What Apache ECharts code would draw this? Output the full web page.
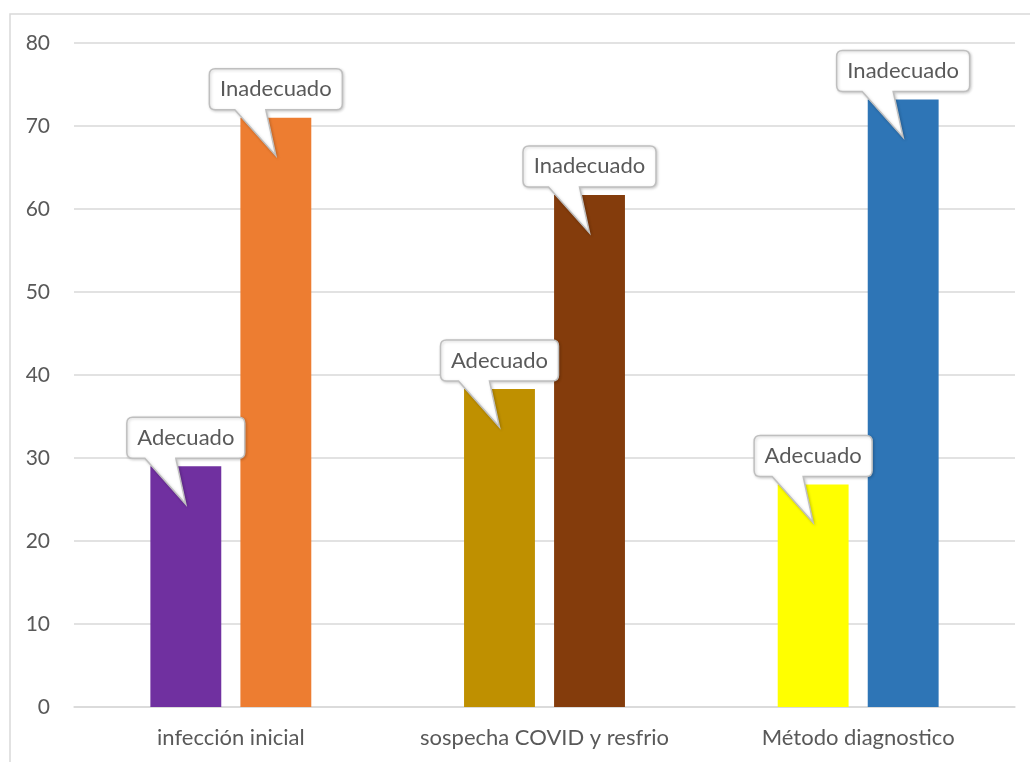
<!DOCTYPE html>
<html lang="es">
<head>
    <meta charset="UTF-8">
    <title>Adecuado / Inadecuado</title>
    <script src="https://cdn.jsdelivr.net/npm/echarts@6/dist/echarts.min.js"></script>
    <style>
        html, body { margin: 0; padding: 0; background: #fff; }
    </style>
</head>
<body>
    <div id="main" style="width: 1030px;height:762px;"></div>
    <script type="text/javascript">
        // datos
        var categorias = ['infección inicial', 'sospecha COVID y resfrio', 'Método diagnostico'];
        var adecuado = [29, 38.3, 26.8];
        var inadecuado = [71, 61.7, 73.2];
        var coloresAdecuado = ['#7030A0', '#BF9000', '#FFFF00'];
        var coloresInadecuado = ['#ED7D31', '#843C0C', '#2E75B6'];
        var nombres = ['Adecuado', 'Inadecuado'];

        var FONT = 'Lato, "Open Sans", sans-serif';
        var gapCat = 0.487, gapBar = 0.27;

        var ctx = document.createElement('canvas').getContext('2d');
        function anchoTexto(t) {
            ctx.font = '22px ' + FONT;
            return ctx.measureText(t).width;
        }

        // puntos para los globos: [categoria, valor, serie]
        var globos = [];
        categorias.forEach(function (c, i) {
            globos.push([i, adecuado[i], 0]);
            globos.push([i, inadecuado[i], 1]);
        });

        function globo(params, api) {
            var cat = api.value(0), val = api.value(1), s = api.value(2);
            var p = api.coord([cat, val]);
            var band = api.size([1, 0])[0];
            var w = band * (1 - gapCat) / (2 + gapBar);
            var cx = p[0] + (s === 0 ? -1 : 1) * w * (1 + gapBar) / 2;
            var top = p[1];
            var txt = nombres[s];
            var W = Math.round(anchoTexto(txt) + 21), H = 41, r = 6;
            var L = cx - W / 2, B = top - 8, T = B - H, R = L + W;
            var b1 = cx - 41, b2 = cx - 10, tipY = top + 38;
            var d = 'M' + (L + r) + ',' + T + ' L' + (R - r) + ',' + T +
                ' Q' + R + ',' + T + ' ' + R + ',' + (T + r) +
                ' L' + R + ',' + (B - r) +
                ' Q' + R + ',' + B + ' ' + (R - r) + ',' + B +
                ' L' + b2 + ',' + B + ' L' + cx + ',' + tipY + ' L' + b1 + ',' + B +
                ' L' + (L + r) + ',' + B +
                ' Q' + L + ',' + B + ' ' + L + ',' + (B - r) +
                ' L' + L + ',' + (T + r) +
                ' Q' + L + ',' + T + ' ' + (L + r) + ',' + T + ' Z';
            return {
                type: 'group',
                children: [{
                    type: 'path',
                    shape: { pathData: d },
                    style: {
                        fill: '#fff', stroke: '#BFBFBF', lineWidth: 1.5,
                        shadowBlur: 3, shadowColor: 'rgba(0,0,0,0.18)', shadowOffsetX: 1, shadowOffsetY: 1
                    }
                }, {
                    type: 'text',
                    style: {
                        x: cx, y: T + H / 2, text: txt,
                        font: '22px ' + FONT, fill: '#595959',
                        align: 'center', verticalAlign: 'middle'
                    }
                }]
            };
        }

        var myChart = echarts.init(document.getElementById('main'));
        var option = {
            animation: false,
            backgroundColor: '#fff',
            textStyle: { fontFamily: FONT },
            graphic: [{
                type: 'rect',
                shape: { x: 10, y: 14, width: 1100, height: 800 },
                style: { fill: 'none', stroke: '#D9D9D9', lineWidth: 1.5 },
                silent: true
            }],
            grid: { left: 74, right: 15, top: 43, bottom: 55 },
            xAxis: {
                type: 'category',
                data: categorias,
                axisLine: { lineStyle: { color: '#D9D9D9', width: 1.5 } },
                axisTick: { show: false },
                axisLabel: { interval: 0, color: '#595959', fontSize: 22, margin: 20, fontFamily: FONT }
            },
            yAxis: {
                type: 'value',
                min: 0, max: 80, interval: 10,
                axisLine: { show: false },
                axisTick: { show: false },
                axisLabel: { color: '#595959', fontSize: 21, margin: 24, fontFamily: FONT },
                splitLine: { lineStyle: { color: '#D9D9D9', width: 1.5 } }
            },
            series: [{
                name: 'Adecuado',
                type: 'bar',
                barCategoryGap: (gapCat * 100) + '%',
                barGap: (gapBar * 100) + '%',
                data: adecuado.map(function (v, i) {
                    return { value: v, itemStyle: { color: coloresAdecuado[i] } };
                })
            }, {
                name: 'Inadecuado',
                type: 'bar',
                data: inadecuado.map(function (v, i) {
                    return { value: v, itemStyle: { color: coloresInadecuado[i] } };
                })
            }, {
                type: 'custom',
                renderItem: globo,
                data: globos,
                z: 5,
                silent: true
            }]
        };
        myChart.setOption(option);
    </script>
</body>
</html>
